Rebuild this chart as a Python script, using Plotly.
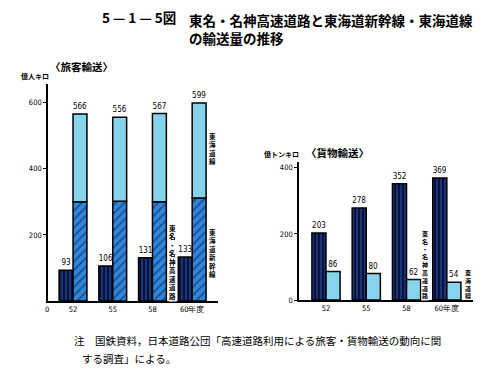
import plotly.graph_objects as go

# ---- data ----
years = ["52", "55", "58", "60年度"]
# passenger (億人キロ)
pass_road = [93, 106, 131, 133]          # 東名・名神高速道路
pass_shinkansen = [300, 302, 300, 312]   # 東海道新幹線 (estimated)
pass_tokaido = [266, 254, 267, 287]      # 東海道線 (estimated)
pass_total = [566, 556, 567, 599]        # labels on stacked bars
# freight (億トンキロ)
frt_road = [203, 278, 352, 369]
frt_tokaido = [86, 80, 62, 54]

W, H = 488, 380
def px(x):
    return x / W
def py(y):
    return 1 - y / H

ROAD_PAT = dict(shape="|", fgcolor="#2e62d4", bgcolor="#0a1238", size=4, solidity=0.42)
SHIN_PAT = dict(shape="/", fgcolor="#0a1633", bgcolor="#2f86dc", size=6, solidity=0.3)
LIGHT = "#86d3ec"
LINE = dict(color="black", width=1.5)
VALFONT = dict(family="DejaVu Sans Condensed", size=8, color="black")

fig = go.Figure()

# passenger chart
fig.add_trace(go.Bar(x=years, y=pass_road, offsetgroup="road", xaxis="x", yaxis="y",
                     marker=dict(color="#0a1238", pattern=ROAD_PAT, line=LINE),
                     text=pass_road, textposition="outside", textfont=VALFONT,
                     constraintext="none", cliponaxis=False, showlegend=False))
fig.add_trace(go.Bar(x=years, y=pass_shinkansen, offsetgroup="rail", xaxis="x", yaxis="y",
                     marker=dict(color="#2f86dc", pattern=SHIN_PAT, line=LINE),
                     showlegend=False))
fig.add_trace(go.Bar(x=years, y=pass_tokaido, base=pass_shinkansen, offsetgroup="rail",
                     xaxis="x", yaxis="y",
                     marker=dict(color=LIGHT, line=LINE),
                     text=pass_total, textposition="outside", textfont=VALFONT,
                     constraintext="none", cliponaxis=False, showlegend=False))

# freight chart
fig.add_trace(go.Bar(x=years, y=frt_road, offsetgroup="road", xaxis="x2", yaxis="y2",
                     marker=dict(color="#0a1238", pattern=ROAD_PAT, line=LINE),
                     text=frt_road, textposition="outside", textfont=VALFONT,
                     constraintext="none", cliponaxis=False, showlegend=False))
fig.add_trace(go.Bar(x=years, y=frt_tokaido, offsetgroup="rail", xaxis="x2", yaxis="y2",
                     marker=dict(color=LIGHT, line=LINE),
                     text=frt_tokaido, textposition="outside", textfont=VALFONT,
                     constraintext="none", cliponaxis=False, showlegend=False))

TICKFONT = dict(family="DejaVu Sans Condensed", size=7.5, color="black")
common_x = dict(type="category", showline=True, linecolor="black", linewidth=1.5,
                ticks="", showgrid=False, zeroline=False, tickfont=TICKFONT, fixedrange=True)
common_y = dict(showline=True, linecolor="black", linewidth=1.5, ticks="outside",
                ticklen=3, tickwidth=1, tickcolor="black", showgrid=False,
                zeroline=False, tickfont=TICKFONT, fixedrange=True)

fig.update_layout(
    width=W, height=H, margin=dict(l=0, r=0, t=0, b=0),
    paper_bgcolor="white", plot_bgcolor="white",
    barmode="group", bargap=0.3, bargroupgap=0,
    font=dict(family="Noto Sans CJK JP", color="black"),
    xaxis=dict(common_x, domain=[px(48), px(218)], range=[-0.63, 3.65], anchor="y"),
    yaxis=dict(common_y, domain=[py(305), py(85)], range=[0, 657],
               tickvals=[200, 400, 600], anchor="x"),
    xaxis2=dict(common_x, domain=[px(299), px(473)], range=[-0.67, 3.65], anchor="y2"),
    yaxis2=dict(common_y, domain=[py(304), py(164)], range=[0, 418],
                tickvals=[0, 200, 400], anchor="x2"),
)

def ann(text, x, y, size, xanchor="center", bold=False, bg=None, family="Noto Sans CJK JP",
        yanchor="middle"):
    d = dict(text=f"<b>{text}</b>" if bold else text, x=px(x), y=py(y),
             xref="paper", yref="paper", showarrow=False, xanchor=xanchor,
             yanchor=yanchor, align="left",
             font=dict(family=family, size=size, color="black"))
    if bg:
        d["bgcolor"] = bg
        d["borderpad"] = 0
    fig.add_annotation(**d)

def vert(text):
    return "<br>".join(list(text))

# title
ann("5 — 1 — 5図", 100, 17, 13.5, xanchor="left", bold=True)
ann("東名・名神高速道路と東海道新幹線・東海道線<br>の輸送量の推移", 187, 8, 13.5,
    xanchor="left", yanchor="top", bold=True)

# sub titles and units
ann("〈旅客輸送〉", 81, 67, 10.5, bold=True)
ann("億人キロ", 35, 77, 7, bold=True)
ann("億トンキロ", 281, 156, 7, bold=True)
ann("〈貨物輸送〉", 337, 155, 10.5, bold=True)
ann("0", 47, 314, 7.5, family="DejaVu Sans Condensed")

# vertical series labels
ann(vert("東海道線"), 212, 150, 6.5, bold=True)
ann(vert("東海道新幹線"), 212, 256, 6.5, bold=True)
ann(vert("東名・名神高速道路"), 172, 265, 6.5, bold=True, bg="white")
ann(vert("東名・名神高速道路"), 425, 268, 6, bold=True, bg="white")
ann(vert("東海道線"), 468, 288, 6, bold=True)

# footnote
ann("注　国鉄資料，日本道路公団「高速道路利用による旅客・貨物輸送の動向に関", 72, 345, 10.5, xanchor="left")
ann("する調査」による。", 80, 363, 10.5, xanchor="left")

fig.write_html("out.html", config={"displayModeBar": False},
               post_script="document.body.style.margin='0';")
